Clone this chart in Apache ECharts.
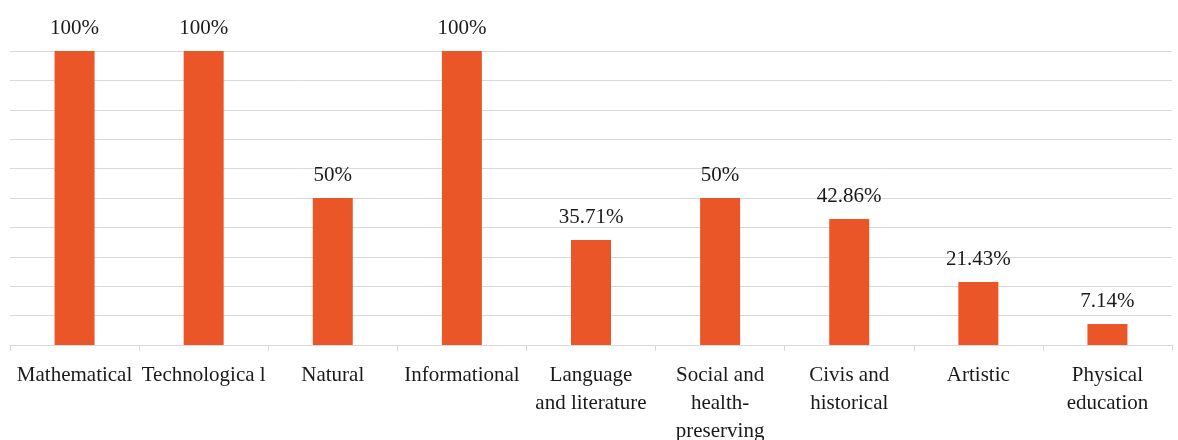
<!DOCTYPE html>
<html>
<head>
<meta charset="utf-8">
<script src="https://cdn.jsdelivr.net/npm/echarts@6/dist/echarts.min.js"></script>
<style>html,body{margin:0;padding:0;background:#fff}#c{width:1178px;height:440px}</style>
</head>
<body>
<div id="c"></div>
<script>
const categories = ["Mathematical", "Technologica l", "Natural", "Informational", "Language\nand literature", "Social and\nhealth-\npreserving", "Civis and\nhistorical", "Artistic", "Physical\neducation"];
const values = [100, 100, 50, 100, 35.71, 50, 42.86, 21.43, 7.14];
const valueLabels = ["100%", "100%", "50%", "100%", "35.71%", "50%", "42.86%", "21.43%", "7.14%"];

const chart = echarts.init(document.getElementById('c'));
const font = '"Liberation Serif", "DejaVu Serif", serif';
chart.setOption({
  animation: false,
  grid: { left: 10, right: 6, top: 51, bottom: 95, containLabel: false, outerBoundsMode: 'none' },
  xAxis: {
    type: 'category',
    data: categories,
    axisLine: { lineStyle: { color: '#d9d9d9', width: 1 } },
    axisTick: { show: true, length: 6, lineStyle: { color: '#d9d9d9' } },
    axisLabel: { interval: 0, color: '#1a1a1a', fontFamily: font, fontSize: 21, lineHeight: 28, margin: 16 }
  },
  yAxis: {
    type: 'value', min: 0, max: 100, interval: 10,
    axisLabel: { show: false },
    axisLine: { show: false }, axisTick: { show: false },
    splitLine: { lineStyle: { color: '#d9d9d9', width: 1 } }
  },
  series: [{
    type: 'bar',
    data: values,
    barWidth: 40,
    itemStyle: { color: '#EB5629' },
    label: {
      show: true, position: 'top', distance: 12,
      color: '#1a1a1a', fontFamily: font, fontSize: 21,
      formatter: p => valueLabels[p.dataIndex]
    }
  }]
});
</script>
</body>
</html>
